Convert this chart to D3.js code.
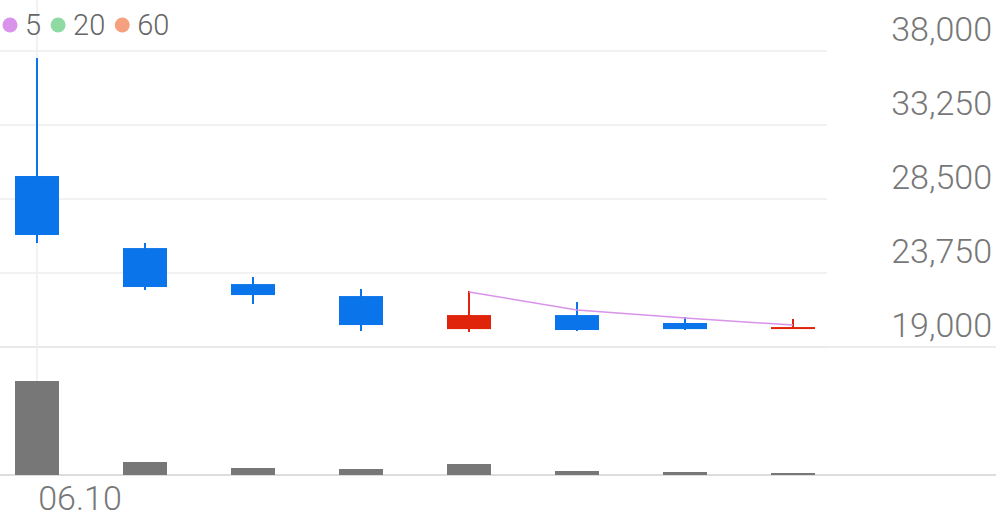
<!DOCTYPE html>
<html><head><meta charset="utf-8">
<script src="https://cdn.jsdelivr.net/npm/d3@7"></script>
<style>body{margin:0;background:#fff}svg{font-family:Roboto,sans-serif}</style>
</head><body><svg id="c" width="996" height="519"></svg>
<script>
// daily candles, oldest first
const dates = ['06.10', '06.11', '06.12', '06.13', '06.14', '06.17', '06.18', '06.19'];
const opens = [29975, 25350, 23040, 22270, 20150, 21050, 20540, 20220];
const highs = [37550, 25675, 23490, 22720, 22590, 21890, 20925, 20800];
const lows = [25675, 22660, 21760, 20025, 19960, 20025, 20090, 20150];
const closes = [26190, 22850, 22335, 20410, 21050, 20090, 20150, 20280];
const volumes = [940, 130, 70, 60, 110, 40, 30, 20];
const ma5 = [null, null, null, null, 22530, 21375, 20860, 20410];
const yTicks = [19000, 23750, 28500, 33250, 38000];
const legend = [{n: '5', c: '#d993ea'}, {n: '20', c: '#8fd9a3'}, {n: '60', c: '#f5a07e'}];

const svg = d3.select('#c');
const x = d3.scaleBand().domain(d3.range(dates.length)).range([-17, 847]).paddingInner(0);
const cx = i => x(i) + x.bandwidth() / 2;
const y = d3.scaleLinear().domain([19000, 38000]).range([347, 51]);
const yv = d3.scaleLinear().domain([0, 1000]).range([475, 375]);

// grid
svg.append('g').selectAll('line').data(yTicks).join('line')
  .attr('x1', 0).attr('x2', 827).attr('y1', d => y(d)).attr('y2', d => y(d))
  .attr('stroke', '#eeeeee').attr('stroke-width', 1.5);
svg.append('line').attr('x1', 0).attr('x2', 996).attr('y1', 347).attr('y2', 347).attr('stroke', '#e6e6e6').attr('stroke-width', 1.5);
svg.append('line').attr('x1', 0).attr('x2', 996).attr('y1', 475).attr('y2', 475).attr('stroke', '#dddddd').attr('stroke-width', 2);
svg.append('line').attr('x1', cx(0)).attr('x2', cx(0)).attr('y1', 0).attr('y2', 475).attr('stroke', '#eeeeee').attr('stroke-width', 1.5);

// y labels
svg.append('g').selectAll('text').data(yTicks).join('text')
  .attr('x', 992).attr('y', d => y(d) - 10).attr('text-anchor', 'end')
  .attr('font-size', 34).attr('font-weight', 300).attr('fill', '#777')
  .text(d => d3.format(',')(d));

// x label
svg.append('text').attr('x', 80).attr('y', 510).attr('text-anchor', 'middle')
  .attr('font-size', 34).attr('font-weight', 300).attr('fill', '#777').text(dates[0]);

// volume
svg.append('g').selectAll('rect').data(volumes).join('rect')
  .attr('x', (d, i) => cx(i) - 22).attr('width', 44)
  .attr('y', d => yv(d)).attr('height', d => 475 - yv(d)).attr('fill', '#777');

// candles
const col = i => closes[i] >= opens[i] ? '#e0230b' : '#0a74ea';
const g = svg.append('g');
dates.forEach((d, i) => {
  g.append('line').attr('x1', cx(i)).attr('x2', cx(i)).attr('y1', y(highs[i])).attr('y2', y(lows[i]))
    .attr('stroke', col(i)).attr('stroke-width', 2);
  const t = y(Math.max(opens[i], closes[i])), b = y(Math.min(opens[i], closes[i]));
  g.append('rect').attr('x', cx(i) - 22).attr('width', 44).attr('y', t).attr('height', Math.max(2, b - t)).attr('fill', col(i));
});

// MA5
const line = d3.line().defined(d => d != null).x((d, i) => cx(i)).y(d => y(d));
svg.append('path').attr('d', line(ma5)).attr('fill', 'none').attr('stroke', '#d993ea').attr('stroke-width', 1.5);

// legend
let lx = 10;
legend.forEach(l => {
  svg.append('circle').attr('cx', lx).attr('cy', 25).attr('r', 7.5).attr('fill', l.c);
  const t = svg.append('text').attr('x', lx + 15).attr('y', 35).attr('font-size', 29).attr('font-weight', 300).attr('fill', '#666').text(l.n);
  lx += 15 + t.node().getComputedTextLength() + 17;
});
</script></body></html>
